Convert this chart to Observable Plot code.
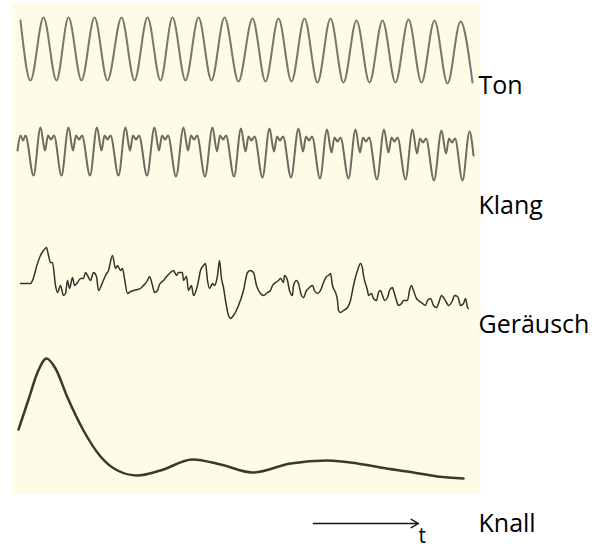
<!DOCTYPE html>
<html>
<head>
<meta charset="utf-8">
<script src="https://cdn.jsdelivr.net/npm/d3@7"></script>
<script src="https://cdn.jsdelivr.net/npm/@observablehq/plot@0.6"></script>
<style>
  body { margin: 0; background: #fff; }
  #chart svg { display: block; }
</style>
</head>
<body>
<div id="chart"></div>
<script>
// Four kinds of sound as waveforms: [time, amplitude] pairs, amplitude positive upwards.
const labels = ["Ton", "Klang", "Geräusch", "Knall"];

// Ton – pure tone, extremes of the sine
const tonPts = [[20,29.5],[30,-30.5],[43,32.5],[56,-30.5],[68,32.5],[81,-30.5],[94,32.5],[107,-30.5],
  [121,32.5],[134,-30.5],[147,32.5],[160,-30.5],[172,32.5],[185,-30.5],[198,32.5],[211,-30.5],
  [224,32.5],[238,-31.5],[252,31.5],[265,-31.5],[278,31.5],[291,-31.5],[304,31.5],[317,-32.5],
  [330,31.5],[343,-32.5],[356,29.5],[369,-32.5],[382,29.5],[395,-32.5],[408,30.5],[421,-32.5],
  [434,29.5],[447,-33.5],[460,28.5],[472,-32.5]];

// Klang – periodic tone with overtones
const klangPts = [[17,1],[20,16],[22.5,11],[25,16],[33,-24],
  [40,24],[44.5,1],[47.5,16],[50.5,12],[53.5,16],[61,-24],
  [68,24],[72.5,1],[75.5,16],[78.5,12],[81.5,16],[89.5,-24],
  [96.5,24],[101,1],[104,16],[107,12],[110,16],[118,-24],
  [125,24],[129.5,1],[132.5,16],[135.5,12],[138.5,16],[146.5,-24],
  [154,24],[158.5,1],[161.5,16],[164.5,12],[167.5,16],[175.5,-25],
  [183,24],[187.5,1],[190.5,16],[193.5,12],[196.5,16],[204.5,-25],
  [212,24],[216.5,0],[219.5,16],[222.5,12],[225.5,16],[233.5,-25],
  [240.5,23],[245,0],[248,15],[251,11],[254,15],[262,-26],
  [269,23],[273.5,0],[276.5,15],[279.5,11],[282.5,15],[290.5,-26],
  [298,23],[302.5,0],[305.5,15],[308.5,11],[311.5,15],[319.5,-27],
  [326.5,22],[331,-1],[334,14],[337,10],[340,14],[348,-27],
  [355,22],[359.5,-1],[362.5,14],[365.5,10],[368.5,14],[376.5,-28],
  [383.5,22],[388,-1],[391,14],[394,10],[397,14],[405,-28],
  [412,22],[416.5,-2],[419.5,13],[422.5,9],[425.5,13],[433.5,-29],
  [441,21],[445.5,-2],[448.5,13],[451.5,9],[454.5,13],[462,-29],
  [469,20],[473,-4]];

// Geräusch – irregular noise
const geraeuschPts = [[20,0],[30,0],[32,3],[37,20],[40,28],[43,33],[46,36],[48,28],[50,21],[52,21],
  [55,-2],[57,-9],[60,-2],[63,-12],[65,-10],[67,3],[69,-5],[72,6],[74,-2],[77,1],[80,5],[83,5],
  [85,11],[87,8],[90,3],[93,11],[96,7],[98,-7],[102,1],[105,8],[108,13],[112,28],[115,15],[117,18],
  [120,13],[122,15],[124,5],[127,-10],[130,-8],[133,-7],[137,-6],[140,-5],[143,-2],[147,3],[149,7],
  [152,-2],[154,-9],[157,-7],[159,-1],[163,3],[167,8],[170,11],[173,13],[176,8],[178,11],[182,11],
  [183,3],[186,7],[188,-7],[191,-2],[193,-12],[197,-2],[200,13],[203,18],[205,20],[207,3],[209,-5],
  [212,0],[214,-2],[217,8],[219,23],[221,5],[223,-4],[225,-17],[228,-32],[230,-35],[233,-32],
  [238,-22],[243,-7],[247,11],[250,13],[253,11],[256,-2],[260,-10],[263,-12],[267,-9],[270,-7],
  [272,-2],[275,1],[278,3],[280,5],[283,1],[284,8],[287,3],[289,-7],[292,-12],[293,-2],[296,3],
  [298,0],[301,-12],[303,-14],[306,-7],[308,-5],[312,-2],[314,-7],[317,-10],[320,-7],[323,1],
  [326,7],[328,8],[330,10],[332,-2],[333,-5],[335,-9],[337,-17],[338,-27],[340,-29],[343,-27],
  [347,-24],[350,-17],[353,-2],[357,13],[360,20],[362,15],[363,8],[367,-7],[368,-12],[371,-10],
  [373,-15],[376,-17],[378,-9],[380,-7],[382,-12],[384,-17],[387,-14],[389,-7],[392,-4],[393,-7],
  [396,-17],[398,-22],[401,-20],[403,-17],[407,-17],[409,-7],[411,-2],[413,-7],[416,-15],[418,-17],
  [422,-20],[425,-22],[427,-17],[430,-15],[433,-22],[436,-24],[438,-20],[441,-12],[443,-14],
  [446,-19],[448,-22],[452,-17],[454,-12],[457,-13],[458,-15],[460,-22],[463,-20],[465,-15],
  [467,-24],[468,-25]];

// Knall – single damped pressure pulse
const knallPts = [[18,49],[28,79],[37,106],[46,120],[55,110],[67,81],[83,48],[100,22],[117,8],
  [137,3],[160,8],[192,19],[220,14],[252,6],[290,15],[327,18],[357,15],[380,11],[413,6],[437,2],[463,0]];

// Lane layout: baseline of each trace and its label, in vertical plot units
const lanes = [
  {name: labels[0], pts: tonPts,       base: 443.5, labelY: 400, stroke: "#7a766e", width: 2,   curve: "monotone-x"},
  {name: labels[1], pts: klangPts,     base: 342,   labelY: 280, stroke: "#6f6b63", width: 2,   curve: "monotone-x"},
  {name: labels[2], pts: geraeuschPts, base: 210,   labelY: 161, stroke: "#35332b", width: 1.5, curve: "monotone-x"},
  {name: labels[3], pts: knallPts,     base: 15,    labelY: -38, stroke: "#3b392b", width: 2.5, curve: "monotone-x"}
];

const font = "'Open Sans', 'Noto Sans', sans-serif";

const marks = [Plot.frame({fill: "#fdfce6", stroke: null})];
for (const lane of lanes) {
  marks.push(Plot.line(lane.pts, {
    x: d => d[0],
    y: d => lane.base + d[1],
    curve: lane.curve,
    stroke: lane.stroke,
    strokeWidth: lane.width,
    strokeLinejoin: "round",
    strokeLinecap: "round"
  }));
}
marks.push(Plot.text(lanes, {
  x: 478, y: "labelY", text: "name",
  textAnchor: "start", lineAnchor: "bottom",
  fontSize: 25, fill: "#000", fontFamily: font
}));
// time arrow
marks.push(Plot.arrow([{x1: 313, x2: 418, y: -30}], {
  x1: "x1", x2: "x2", y1: "y", y2: "y",
  stroke: "#111", strokeWidth: 1.4, headLength: 9, bend: 0
}));
marks.push(Plot.text(["t"], {
  x: 418, y: -49, text: d => d,
  textAnchor: "start", lineAnchor: "bottom",
  fontSize: 21, fill: "#000", fontFamily: font
}));

const chart = Plot.plot({
  width: 603,
  height: 549,
  marginLeft: 12,
  marginRight: 123,
  marginTop: 3,
  marginBottom: 56,
  x: {domain: [12, 480], axis: null},
  y: {domain: [0, 490], axis: null},
  style: {background: "#fff", overflow: "visible"},
  marks
});
document.getElementById("chart").appendChild(chart);
</script>
</body>
</html>
